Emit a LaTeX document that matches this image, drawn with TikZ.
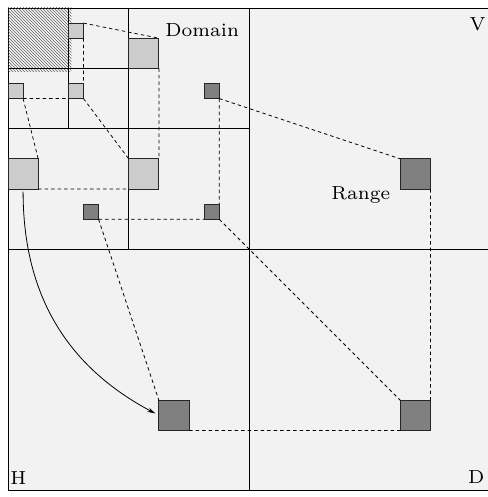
\documentclass[tikz,border=0pt]{standalone}
\usetikzlibrary{arrows.meta, patterns}
\tikzset{>={Stealth[length=8pt,width=4.5pt]}, % head of the map arrow
x=15.09pt, y=-15.09pt, % one unit is one cell of the 32x32 grid, y runs down
box/.style={draw=black!85, line width=0.8pt, inner sep=0pt, outer sep=0pt, anchor=north west},
sq1/.style={box, minimum size=15.09pt}, % one cell
sq2/.style={box, minimum size=30.18pt}, % two by two cells
lite/.style={fill=black!20},
dark/.style={fill=black!50},
link/.style={dash pattern=on 3.5pt off 3pt, line width=0.75pt}, % the dashed connectors
lbl/.style={inner sep=0pt, scale=2.7, font=\fontsize{7}{8}\selectfont},
}
\begin{document}
\begin{tikzpicture}
  \useasboundingbox (-0.53,-0.53) rectangle (31.81,32.41);
  \fill[black!5] (0,0) rectangle (32,32);
  % quadtree
  \draw[line width=0.8pt] (0,0) rectangle (32,32)
    (16,0) -- (16,32) (0,16) -- (32,16)
    (8,0) -- (8,16) (0,8) -- (16,8)
    (0,4) -- (8,4);
  \fill[pattern=north west lines, pattern color=black!75] (0,0) rectangle (4.2,4.2);
  \draw[line width=0.8pt] (4,0) -- (4,8) (0,4) -- (4,4);

  \node[sq1, lite] (s1) at (4,1) {};
  \node[sq2, lite] (s2) at (8,2) {};
  \node[sq1, lite] (s3) at (0,5) {};
  \node[sq1, lite] (s4) at (4,5) {};
  \node[sq2, lite] (s5) at (0,10) {};
  \node[sq2, lite] (s6) at (8,10) {};
  \node[sq1, dark] (t1) at (13,5) {};
  \node[sq1, dark] (t2) at (5,13) {};
  \node[sq1, dark] (t3) at (13,13) {};
  \node[sq2, dark] (t4) at (26,10) {};
  \node[sq2, dark] (t5) at (10,26) {};
  \node[sq2, dark] (t6) at (26,26) {};

  \node[lbl, anchor=base west] (dom) at (10.40,1.86) {Domain};
  \node[lbl, anchor=base west] (rng) at (21.40,12.66) {Range};
  \node[lbl, anchor=base east] (lv) at (31.68,1.52) {V};
  \node[lbl, anchor=base west] (lh) at (0.13,31.61) {H};
  \node[lbl, anchor=base east] (ld) at (31.61,31.54) {D};

  \draw[link] (s1.north east) -- (s2.north east)
    (s1.south east) -- (s4.north east)
    (s2.south east) -- (s6.north east)
    (s3.south east) -- (s4.south west)
    (s3.south east) -- (s5.north east)
    (s4.south east) -- (s6.north west)
    (s5.south east) -- (s6.south west)
    (t1.south east) -- (t4.north west)
    (t1.south east) -- (t3.north east)
    (t2.south east) -- (t3.south west)
    (t2.south east) -- (t5.north west)
    (t3.south east) -- (t6.north west)
    (t4.south east) -- (t6.north east)
    (t5.south east) -- (t6.south west);

  \draw[->, line width=0.8pt, shorten <=2.5pt, shorten >=4pt] (s5.south) .. controls +(0,7.3) and +(-5.85,-3.11) .. (t5.west);
\end{tikzpicture}
\end{document}
